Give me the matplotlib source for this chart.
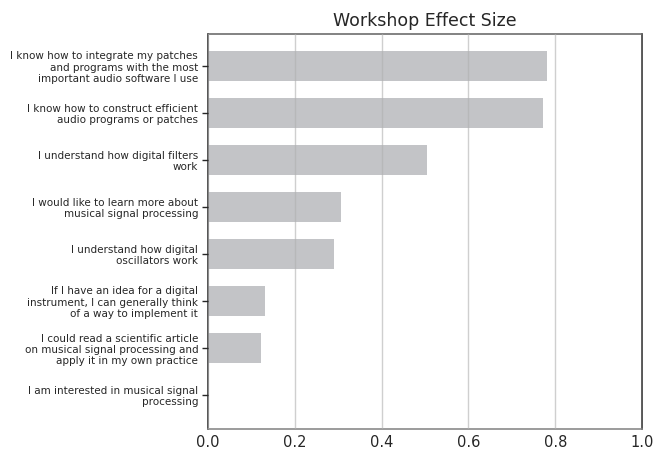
import matplotlib

matplotlib.use("Agg")
import matplotlib.pyplot as plt

labels = [
    "I know how to integrate my patches\nand programs with the most\nimportant audio software I use",
    "I know how to construct efficient\naudio programs or patches",
    "I understand how digital filters\nwork",
    "I would like to learn more about\nmusical signal processing",
    "I understand how digital\noscillators work",
    "If I have an idea for a digital\ninstrument, I can generally think\nof a way to implement it",
    "I could read a scientific article\non musical signal processing and\napply it in my own practice",
    "I am interested in musical signal\nprocessing",
]
effect = [0.78, 0.771, 0.505, 0.307, 0.291, 0.131, 0.122, 0.0]

BAR = "#c3c4c7"
GRID = "#b0b0b0"
DARK = "#262626"

fig = plt.figure(figsize=(6.58, 4.53), dpi=100)
ax = fig.add_axes([0.316, 0.053, 0.66, 0.872])

pos = list(range(len(effect)))
ax.barh(pos, effect, height=0.63, color=BAR, zorder=1)
ax.set_xlim(0, 1.0)
ax.set_ylim(7.72, -0.68)
ax.set_yticks(pos)
ax.set_yticklabels(labels, fontsize=7.5, color=DARK, linespacing=1.15)
ax.set_xticks([0, 0.2, 0.4, 0.6, 0.8, 1.0])
ax.set_xticklabels(["0.0", "0.2", "0.4", "0.6", "0.8", "1.0"])
ax.tick_params(axis="x", labelsize=10.5, length=0, colors=DARK, pad=4)
ax.tick_params(axis="y", length=4, width=1, colors=DARK, pad=3)
ax.xaxis.grid(True, color=GRID, alpha=0.6, lw=1, zorder=2)
ax.set_axisbelow(False)

ax.spines["left"].set_color(DARK)
ax.spines["right"].set_color(DARK)
ax.spines["top"].set_color("#606060")
ax.spines["bottom"].set_color("#808080")
for s in ax.spines.values():
    s.set_linewidth(1.1)

ax.set_title("Workshop Effect Size", fontsize=12.5, color=DARK, pad=6)

fig.savefig("out.png", dpi=100)
